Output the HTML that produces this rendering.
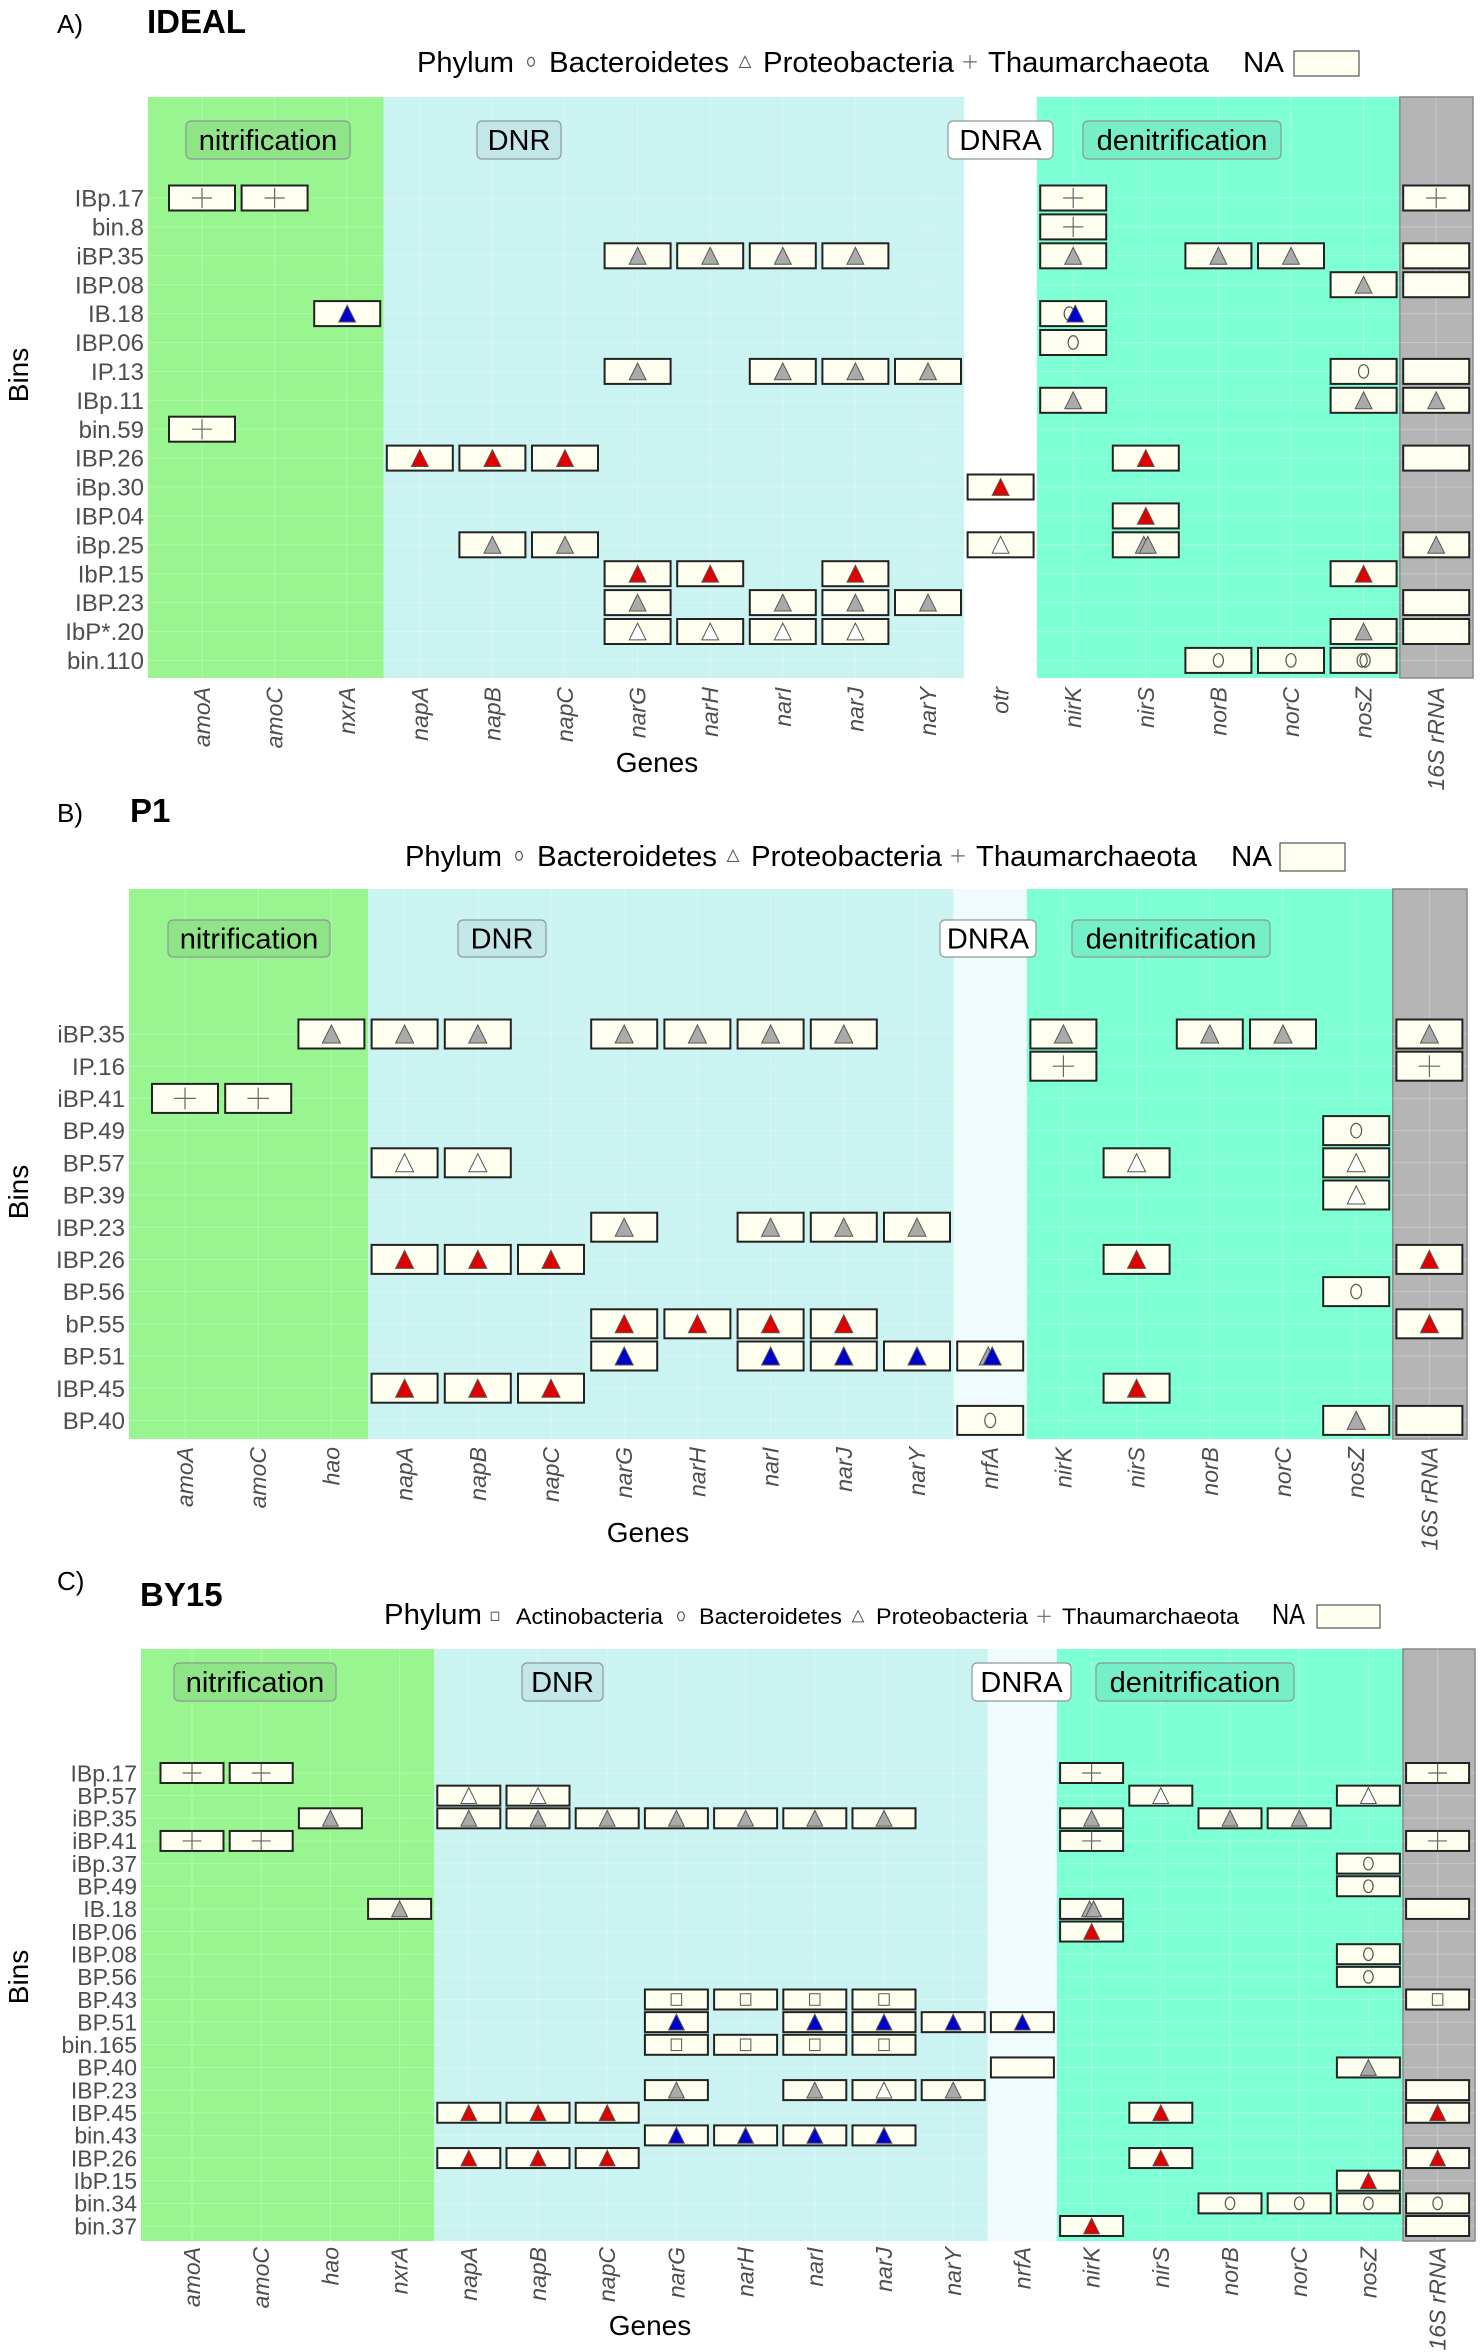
<!DOCTYPE html>
<html><head><meta charset="utf-8"><style>
html,body{margin:0;padding:0;background:#fff;}
svg{display:block;font-family:"Liberation Sans",sans-serif;}
</style></head><body>
<svg id="chart" xmlns="http://www.w3.org/2000/svg" width="1484" height="2352" viewBox="0 0 1484 2352"></svg>
<script>
// ---------- DATA ----------
const genesA = ["amoA","amoC","nxrA","napA","napB","napC","narG","narH","narI","narJ","narY","otr","nirK","nirS","norB","norC","nosZ","16S rRNA"];
const binsA = ["IBp.17","bin.8","iBP.35","IBP.08","IB.18","IBP.06","IP.13","IBp.11","bin.59","IBP.26","iBp.30","IBP.04","iBp.25","IbP.15","IBP.23","IbP*.20","bin.110"];
const tilesA = [
["IBp.17","amoA","p"],["IBp.17","amoC","p"],["IBp.17","nirK","p"],["IBp.17","16S rRNA","p"],
["bin.8","nirK","p"],
["iBP.35","narG","tg"],["iBP.35","narH","tg"],["iBP.35","narI","tg"],["iBP.35","narJ","tg"],["iBP.35","nirK","tg"],["iBP.35","norB","tg"],["iBP.35","norC","tg"],["iBP.35","16S rRNA","n"],
["IBP.08","nosZ","tg"],["IBP.08","16S rRNA","n"],
["IB.18","nxrA","tb"],["IB.18","nirK","cb"],
["IBP.06","nirK","c"],
["IP.13","narG","tg"],["IP.13","narI","tg"],["IP.13","narJ","tg"],["IP.13","narY","tg"],["IP.13","nosZ","c"],["IP.13","16S rRNA","n"],
["IBp.11","nirK","tg"],["IBp.11","nosZ","tg"],["IBp.11","16S rRNA","tg"],
["bin.59","amoA","p"],
["IBP.26","napA","tr"],["IBP.26","napB","tr"],["IBP.26","napC","tr"],["IBP.26","nirS","tr"],["IBP.26","16S rRNA","n"],
["iBp.30","otr","tr"],
["IBP.04","nirS","tr"],
["iBp.25","napB","tg"],["iBp.25","napC","tg"],["iBp.25","otr","tw"],["iBp.25","nirS","tt"],["iBp.25","16S rRNA","tg"],
["IbP.15","narG","tr"],["IbP.15","narH","tr"],["IbP.15","narJ","tr"],["IbP.15","nosZ","tr"],
["IBP.23","narG","tg"],["IBP.23","narI","tg"],["IBP.23","narJ","tg"],["IBP.23","narY","tg"],["IBP.23","16S rRNA","n"],
["IbP*.20","narG","tw"],["IbP*.20","narH","tw"],["IbP*.20","narI","tw"],["IbP*.20","narJ","tw"],["IbP*.20","nosZ","tg"],["IbP*.20","16S rRNA","n"],
["bin.110","norB","c"],["bin.110","norC","c"],["bin.110","nosZ","cc"]
];
const genesB = ["amoA","amoC","hao","napA","napB","napC","narG","narH","narI","narJ","narY","nrfA","nirK","nirS","norB","norC","nosZ","16S rRNA"];
const binsB = ["iBP.35","IP.16","iBP.41","BP.49","BP.57","BP.39","IBP.23","IBP.26","BP.56","bP.55","BP.51","IBP.45","BP.40"];
const tilesB = [
["iBP.35","hao","tg"],["iBP.35","napA","tg"],["iBP.35","napB","tg"],["iBP.35","narG","tg"],["iBP.35","narH","tg"],["iBP.35","narI","tg"],["iBP.35","narJ","tg"],["iBP.35","nirK","tg"],["iBP.35","norB","tg"],["iBP.35","norC","tg"],["iBP.35","16S rRNA","tg"],
["IP.16","nirK","p"],["IP.16","16S rRNA","p"],
["iBP.41","amoA","p"],["iBP.41","amoC","p"],
["BP.49","nosZ","c"],
["BP.57","napA","tw"],["BP.57","napB","tw"],["BP.57","nirS","tw"],["BP.57","nosZ","tw"],
["BP.39","nosZ","tw"],
["IBP.23","narG","tg"],["IBP.23","narI","tg"],["IBP.23","narJ","tg"],["IBP.23","narY","tg"],
["IBP.26","napA","tr"],["IBP.26","napB","tr"],["IBP.26","napC","tr"],["IBP.26","nirS","tr"],["IBP.26","16S rRNA","tr"],
["BP.56","nosZ","c"],
["bP.55","narG","tr"],["bP.55","narH","tr"],["bP.55","narI","tr"],["bP.55","narJ","tr"],["bP.55","16S rRNA","tr"],
["BP.51","narG","tb"],["BP.51","narI","tb"],["BP.51","narJ","tb"],["BP.51","narY","tb"],["BP.51","nrfA","tbg"],
["IBP.45","napA","tr"],["IBP.45","napB","tr"],["IBP.45","napC","tr"],["IBP.45","nirS","tr"],
["BP.40","nrfA","c"],["BP.40","nosZ","tg"],["BP.40","16S rRNA","n"]
];
const genesC = ["amoA","amoC","hao","nxrA","napA","napB","napC","narG","narH","narI","narJ","narY","nrfA","nirK","nirS","norB","norC","nosZ","16S rRNA"];
const binsC = ["IBp.17","BP.57","iBP.35","iBP.41","iBp.37","BP.49","IB.18","IBP.06","IBP.08","BP.56","BP.43","BP.51","bin.165","BP.40","IBP.23","IBP.45","bin.43","IBP.26","IbP.15","bin.34","bin.37"];
const tilesC = [
["IBp.17","amoA","p"],["IBp.17","amoC","p"],["IBp.17","nirK","p"],["IBp.17","16S rRNA","p"],
["BP.57","napA","tw"],["BP.57","napB","tw"],["BP.57","nirS","tw"],["BP.57","nosZ","tw"],
["iBP.35","hao","tg"],["iBP.35","napA","tg"],["iBP.35","napB","tg"],["iBP.35","napC","tg"],["iBP.35","narG","tg"],["iBP.35","narH","tg"],["iBP.35","narI","tg"],["iBP.35","narJ","tg"],["iBP.35","nirK","tg"],["iBP.35","norB","tg"],["iBP.35","norC","tg"],
["iBP.41","amoA","p"],["iBP.41","amoC","p"],["iBP.41","nirK","p"],["iBP.41","16S rRNA","p"],
["iBp.37","nosZ","c"],["BP.49","nosZ","c"],
["IB.18","nxrA","tg"],["IB.18","nirK","tt"],["IB.18","16S rRNA","n"],
["IBP.06","nirK","tr"],
["IBP.08","nosZ","c"],["BP.56","nosZ","c"],
["BP.43","narG","s"],["BP.43","narH","s"],["BP.43","narI","s"],["BP.43","narJ","s"],["BP.43","16S rRNA","s"],
["BP.51","narG","tb"],["BP.51","narI","tb"],["BP.51","narJ","tb"],["BP.51","narY","tb"],["BP.51","nrfA","tb"],
["bin.165","narG","s"],["bin.165","narH","s"],["bin.165","narI","s"],["bin.165","narJ","s"],
["BP.40","nrfA","n"],["BP.40","nosZ","tg"],
["IBP.23","narG","tg"],["IBP.23","narI","tg"],["IBP.23","narJ","tw"],["IBP.23","narY","tg"],["IBP.23","16S rRNA","n"],
["IBP.45","napA","tr"],["IBP.45","napB","tr"],["IBP.45","napC","tr"],["IBP.45","nirS","tr"],["IBP.45","16S rRNA","tr"],
["bin.43","narG","tb"],["bin.43","narH","tb"],["bin.43","narI","tb"],["bin.43","narJ","tb"],
["IBP.26","napA","tr"],["IBP.26","napB","tr"],["IBP.26","napC","tr"],["IBP.26","nirS","tr"],["IBP.26","16S rRNA","tr"],
["IbP.15","nosZ","tr"],
["bin.34","norB","c"],["bin.34","norC","c"],["bin.34","nosZ","c"],["bin.34","16S rRNA","c"],
["bin.37","nirK","tr"],["bin.37","16S rRNA","n"]
];

// ---------- LAYOUT ----------
const NS="http://www.w3.org/2000/svg";
const svg=document.getElementById('chart');
function mk(tag,attrs,parent,text){const e=document.createElementNS(NS,tag);for(const k in attrs)e.setAttribute(k,attrs[k]);if(text!==undefined)e.textContent=text;(parent||svg).appendChild(e);return e;}

const panels=[
 {id:"a",tag:"A)",title:"IDEAL",tagY:33,titleX:147,genes:genesA,bins:binsA,tiles:tilesA,left:148,right:1473,top:97,bottom:678,c0:202,dx:72.6,r0:198,dy:28.9,tw:66,th:25,cuts:[2.5,10.5,11.5,16.5],dnraFill:"#ffffff",labY:[121,159],labs:[[186,350],[477,561],[948,1053],[1083,1281]],rowFont:24,xTop:687,genesY:772,genesX:657,binsY:375,sym:1.12,
  legend:{y:72,font:29,big:29,items:[["Phylum",417,514],["c",531],["Bacteroidetes",549,729],["t",745],["Proteobacteria",763,954],["p",970],["Thaumarchaeota",988,1209],["NA",1243,1284]],box:[1294,51,65,25]}},
 {id:"b",tag:"B)",title:"P1",tagY:822,titleX:130,genes:genesB,bins:binsB,tiles:tilesB,left:129,right:1467,top:889,bottom:1439,c0:185,dx:73.2,r0:1034,dy:32.2,tw:66,th:29,cuts:[2.5,10.5,11.5,16.5],dnraFill:"#f0fbfd",labY:[920,957],labs:[[168,330],[458,546],[940,1036],[1072,1270]],rowFont:24,xTop:1447,genesY:1542,genesX:648,binsY:1192,sym:1.2,
  legend:{y:866,font:29,big:29,items:[["Phylum",405,502],["c",519],["Bacteroidetes",537,717],["t",733],["Proteobacteria",751,942],["p",958],["Thaumarchaeota",976,1197],["NA",1231,1272]],box:[1280,843,65,28]}},
 {id:"c",tag:"C)",title:"BY15",tagY:1590,titleX:140,genes:genesC,bins:binsC,tiles:tilesC,left:141,right:1475,top:1649,bottom:2241,c0:192,dx:69.2,r0:1773,dy:22.65,tw:63,th:20,cuts:[3.5,11.5,12.5,17.5],dnraFill:"#f0fbfd",labY:[1663,1701],labs:[[174,336],[522,603],[972,1071],[1096,1294]],rowFont:23,xTop:2247,genesY:2335,genesX:650,binsY:1977,sym:1.05,
  legend:{y:1624,font:22,big:29,items:[["Phylum",384,482],["s",495],["Actinobacteria",516,663],["c",681],["Bacteroidetes",699,842],["t",858],["Proteobacteria",876,1028],["p",1044],["Thaumarchaeota",1062,1239],["NA",1272,1305]],box:[1317,1605,63,23]}}
];
const bandFills=["#98f590","#cbf3f2",null,"#7fffd4","#b5b5b5"];
const bandNames=["nitrification-band","dnr-band","dnra-band","denitrification-band","16s-rrna-band"];
const labText=["nitrification","DNR","DNRA","denitrification"];
const labFill=["#8ee487","#c3e6e8","#ffffff","#76efc8"];

function drawSym(g,kind,cx,cy,s){
 const tri=(fill,dx0)=>{const h=15*s,w=7.5*s;const p=mk('polygon',{points:`${cx+dx0},${cy-h/2} ${cx+dx0-w},${cy+h/2} ${cx+dx0+w},${cy+h/2}`,fill:fill,stroke:"#555","stroke-width":1},g);};
 const circ=(dx0)=>{const c=mk('ellipse',{cx:cx+dx0,cy:cy,rx:4.5*s,ry:6*s,fill:"none",stroke:"#555","stroke-width":1.2},g);};
 if(kind==="tg")tri("#aaaaaa",0);
 else if(kind==="tr")tri("#e00000",0);
 else if(kind==="tb")tri("#0000cc",0);
 else if(kind==="tw")tri("#ffffff",0);
 else if(kind==="tt"){tri("#aaaaaa",-2);tri("#aaaaaa",2);}
 else if(kind==="tbg"){tri("#aaaaaa",-2);tri("#0000cc",2);}
 else if(kind==="c")circ(0);
 else if(kind==="cc"){circ(-1.5);circ(1.5);}
 else if(kind==="cb"){circ(-4);tri("#0000cc",2);}
 else if(kind==="s"){const r=mk('rect',{x:cx-5*s,y:cy-5.5*s,width:10*s,height:11*s,fill:"none",stroke:"#555","stroke-width":1},g);}
 else if(kind==="p"){const ps=9*s;const pth=mk('path',{d:`M${cx-ps} ${cy}H${cx+ps}M${cx} ${cy-ps}V${cy+ps}`,stroke:"#666","stroke-width":1.2,fill:"none"},g);}
}

panels.forEach(P=>{
 const g=mk('g',{});
 
 
 const xs=i=>P.c0+i*P.dx;
 const ys=j=>P.r0+j*P.dy;
 const tg=mk('text',{x:57,y:P.tagY,"font-size":26,fill:"#000"},g,P.tag);
 
 const tt=mk('text',{x:P.titleX,y:P.tagY+(P.id==="c"?16:0),"font-size":33,"font-weight":"bold",fill:"#000"},g,P.title);
 
 const L=P.legend;
 const lg=mk('g',{},g);
 L.items.forEach(it=>{
  if(it.length===3){
   const fs=(it[0]==="Phylum"||it[0]==="NA")?L.big:L.font;
   const t=mk('text',{x:it[1],y:L.y,"font-size":fs,fill:"#000",textLength:it[2]-it[1],lengthAdjust:"spacingAndGlyphs"},lg,it[0]);
   
  } else {
   drawSym(lg,it[0]==="t"?"tw":it[0],it[1],L.y-L.font*0.35,0.75);
  }
 });
 const nb=mk('rect',{x:L.box[0],y:L.box[1],width:L.box[2],height:L.box[3],fill:"#fffff0",stroke:"#555","stroke-width":1.2},lg);
 
 const edges=[P.left,...P.cuts.map(c=>xs(c)),P.right];
 for(let b=0;b<5;b++){
  const r=mk('rect',{x:edges[b],y:P.top,width:edges[b+1]-edges[b],height:P.bottom-P.top,fill:b===2?P.dnraFill:bandFills[b]},g);
  
 }
 const gb=mk('rect',{x:edges[4],y:P.top,width:P.right-edges[4],height:P.bottom-P.top,fill:"none",stroke:"#888","stroke-width":1.5},g);
 
 P.genes.forEach((_,i)=>{const l=mk('line',{x1:xs(i),x2:xs(i),y1:P.top,y2:P.bottom,stroke:"#ffffff","stroke-opacity":0.25,"stroke-width":1},g);});
 P.bins.forEach((_,j)=>{const l=mk('line',{x1:P.left,x2:P.right,y1:ys(j),y2:ys(j),stroke:"#ffffff","stroke-opacity":0.25,"stroke-width":1},g);});
 P.labs.forEach((lb,k)=>{
  const r=mk('rect',{x:lb[0],y:P.labY[0],width:lb[1]-lb[0],height:P.labY[1]-P.labY[0],rx:5,fill:labFill[k],stroke:"#8a9a95","stroke-width":1.2},g);
  
  const t=mk('text',{x:(lb[0]+lb[1])/2,y:(P.labY[0]+P.labY[1])/2+10,"font-size":29,"text-anchor":"middle",fill:"#000"},g,labText[k]);
  
 });
 P.bins.forEach((b,j)=>{const t=mk('text',{x:P.left-4,y:ys(j)+P.rowFont*0.36,"font-size":P.rowFont,"text-anchor":"end",fill:"#4d4d4d"},g,b);});
 P.genes.forEach((gn,i)=>{const x=xs(i)+8,y=P.xTop;const t=mk('text',{x:x,y:y,"font-size":23,"font-style":"italic","text-anchor":"end",fill:"#4d4d4d",transform:`rotate(-90 ${x} ${y})`},g,gn);});
 const gt=mk('text',{x:P.genesX,y:P.genesY,"font-size":28,"text-anchor":"middle",fill:"#000"},g,"Genes");
 
 const bt=mk('text',{x:28,y:P.binsY,"font-size":28,"text-anchor":"middle",fill:"#000",transform:`rotate(-90 28 ${P.binsY})`},g,"Bins");
 
 P.tiles.forEach(tl=>{
  const j=P.bins.indexOf(tl[0]),i=P.genes.indexOf(tl[1]);
  if(i<0||j<0)return;
  const cx=xs(i),cy=ys(j);
  const tgp=mk('g',{},g);
  
  
  mk('rect',{x:cx-P.tw/2,y:cy-P.th/2,width:P.tw,height:P.th,fill:"#fffff0",stroke:"#222","stroke-width":2},tgp);
  if(tl[2]!=="n")drawSym(tgp,tl[2],cx,cy,P.sym);
 });
});
</script>
</body></html>
